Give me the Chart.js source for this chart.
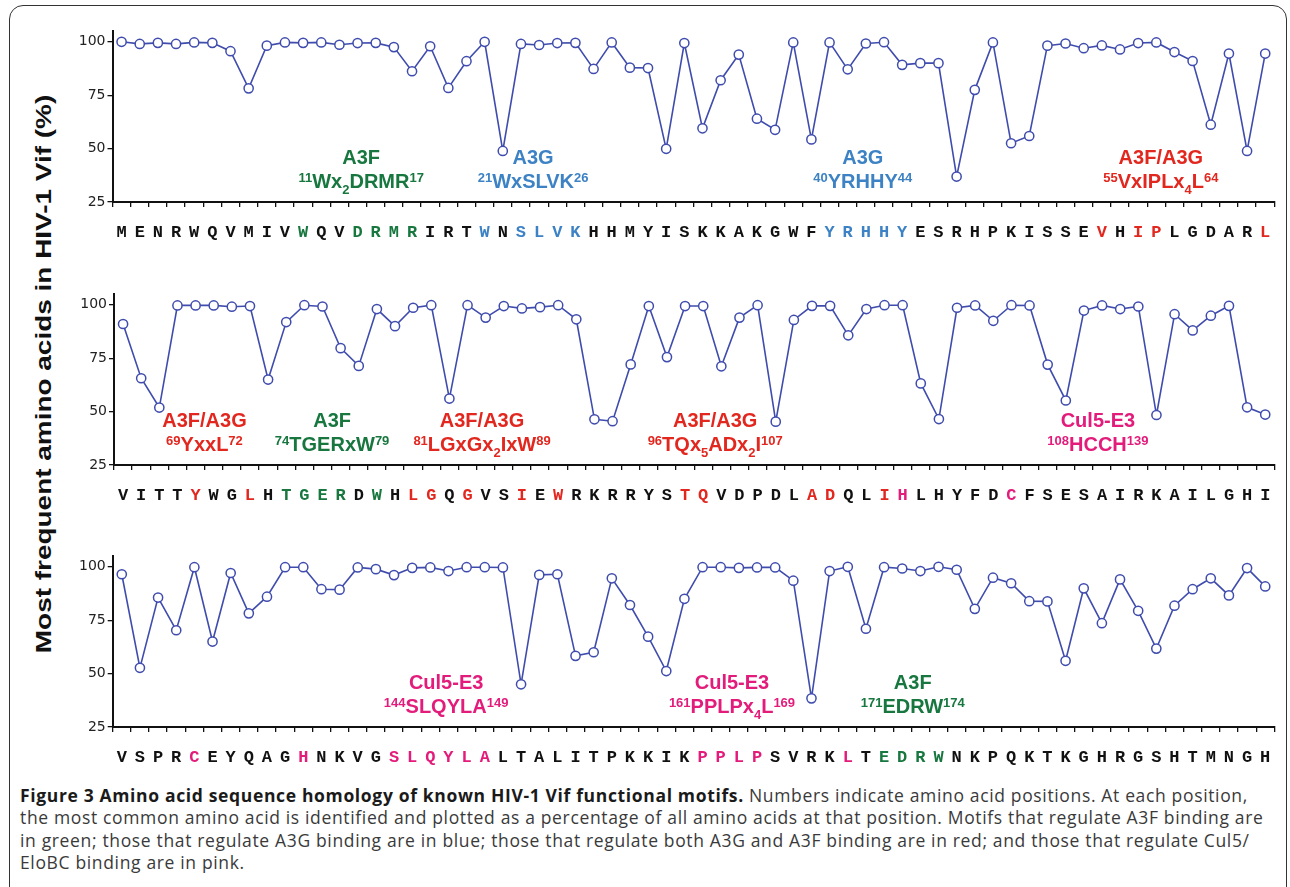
<!DOCTYPE html>
<html>
<head>
<meta charset="utf-8">
<script src="https://cdn.jsdelivr.net/npm/chart.js@4.4.1/dist/chart.umd.min.js"></script>
<style>
  body { margin: 0; background: #fff; width: 1290px; height: 887px; overflow: hidden; position: relative; }
  #frame { position: absolute; left: 9px; top: 5px; width: 1276px; height: 920px; border: 1.5px solid #333; border-radius: 14px; }
  canvas { position: absolute; left: 0; }
  #ytitle {
    position: absolute; left: 43.5px; top: 374px; transform: translate(-50%, -50%) rotate(-90deg) scaleX(1.27);
    white-space: nowrap; font: bold 22px "Liberation Sans", Arial, sans-serif; color: #111;
  }
  #caption {
    position: absolute; left: 20px; top: 784px; white-space: nowrap; letter-spacing: 0.65px;
    font: 17.5px/22.4px "Open Sans", sans-serif; color: #3a3a3a;
  }
  #caption b { color: #1a1a1a; }
</style>
</head>
<body>
<div id="frame"></div>
<div id="ytitle">Most frequent amino acids in HIV-1 Vif (%)</div>
<canvas id="panel1" width="1290" height="222"></canvas>
<canvas id="panel2" width="1290" height="222"></canvas>
<canvas id="panel3" width="1290" height="222"></canvas>
<div id="caption"><b>Figure 3 Amino acid sequence homology of known HIV-1 Vif functional motifs.</b> Numbers indicate amino acid positions. At each position,<br>the most common amino acid is identified and plotted as a percentage of all amino acids at that position. Motifs that regulate A3F binding are<br>in green; those that regulate A3G binding are in blue; those that regulate both A3G and A3F binding are in red; and those that regulate Cul5/<br>EloBC binding are in pink.</div>

<script>
// Vif sequence, 64 residues per row
const seq1 = "MENRWQVMIVWQVDRMRIRTWNSLVKHHMYISKKAKGWFYRHHYESRHPKISSEVHIPLGDARL";
const seq2 = "VITTYWGLHTGERDWHLGQGVSIEWRKRRYSTQVDPDLADQLIHLHYFDCFSESAIRKAILGHI";
const seq3 = "VSPRCEYQAGHNKVGSLQYLALTALITPKKIKPPLPSVRKLTEDRWNKPQKTKGHRGSHTMNGH";

// % of most frequent amino acid at each position
const pct1 = [100, 99, 99.5, 99, 99.7, 99.5, 95.6, 78.2, 98.2, 99.7,
  99.5, 99.7, 98.6, 99.4, 99.5, 97.5, 86.2, 97.9, 78.4, 90.9,
  100, 48.9, 99, 98.5, 99.4, 99.5, 87.3, 99.7, 87.9, 87.7,
  49.9, 99.4, 59.5, 82, 94, 64, 58.8, 99.7, 54.3, 99.7,
  87.1, 99.2, 99.8, 89.2, 90, 90, 36.9, 77.5, 99.7, 52.5,
  55.9, 98.2, 99.2, 97, 98.3, 96.4, 99.4, 99.7, 95.2, 91,
  61.2, 94.5, 48.9, 94.5];
const pct2 = [91, 65.6, 51.9, 99.7, 99.7, 99.7, 99.1, 99.4, 65, 91.9,
  99.8, 99.2, 79.7, 71.4, 98, 90, 98.6, 99.8, 56.1, 99.8,
  94, 99.4, 98.3, 98.9, 99.8, 93.2, 46.4, 45.5, 72.1, 99.4,
  75.5, 99.4, 99.4, 71.2, 94, 99.8, 45.3, 92.9, 99.5, 99.5,
  85.7, 98, 99.8, 99.8, 63.2, 46.5, 98.6, 99.7, 92.5, 99.8,
  99.7, 72, 55.2, 97.3, 99.7, 98, 99.2, 48.4, 95.6, 88,
  94.9, 99.5, 52, 48.6];
const pct3 = [96.5, 52.7, 85.6, 70.3, 99.8, 65, 97.1, 78.2, 86, 99.8,
  99.8, 89.5, 89.3, 99.7, 98.9, 96.1, 99.5, 99.7, 98, 99.8,
  99.8, 99.7, 45, 96.2, 96.5, 58.3, 60, 94.6, 82.1, 67.3,
  51.2, 85, 99.8, 99.8, 99.5, 99.7, 99.7, 93.5, 38.4, 98,
  100, 71, 99.8, 99.2, 98, 100, 98.6, 80.3, 94.9, 92.3,
  83.9, 83.8, 56, 89.9, 73.6, 94.1, 79.4, 61.7, 81.8, 89.5,
  94.6, 86.6, 99.4, 90.8];

const yTicks = [25, 50, 75, 100];

// residue numbers in each kind of motif
const a3fSites = [11, 14, 15, 16, 17, 74, 75, 76, 77, 79, 171, 172, 173, 174];
const a3gSites = [21, 23, 24, 25, 26, 40, 41, 42, 43, 44];
const bothSites = [55, 57, 58, 64, 69, 72, 81, 82, 84, 87, 89, 96, 97, 103, 104, 107];
const cul5Sites = [108, 114, 133, 139, 144, 145, 146, 147, 148, 149, 161, 162, 163, 164, 169];

// motif labels: "at" is the residue (row index) they are centred on
const motifs1 = [
  { at: 13.2, name: "A3F", motif: "^{11}Wx_{2}DRMR^{17}", group: "a3f" },
  { at: 22.67, name: "A3G", motif: "^{21}WxSLVK^{26}", group: "a3g" },
  { at: 40.83, name: "A3G", motif: "^{40}YRHHY^{44}", group: "a3g" },
  { at: 57.25, name: "A3F/A3G", motif: "^{55}VxIPLx_{4}L^{64}", group: "both" },
];
const motifs2 = [
  { at: 4.49, name: "A3F/A3G", motif: "^{69}YxxL^{72}", group: "both" },
  { at: 11.53, name: "A3F", motif: "^{74}TGERxW^{79}", group: "a3f" },
  { at: 19.8, name: "A3F/A3G", motif: "^{81}LGxGx_{2}IxW^{89}", group: "both" },
  { at: 32.66, name: "A3F/A3G", motif: "^{96}TQx_{5}ADx_{2}I^{107}", group: "both" },
  { at: 53.77, name: "Cul5-E3", motif: "^{108}HCCH^{139}", group: "cul5" },
];
const motifs3 = [
  { at: 17.87, name: "Cul5-E3", motif: "^{144}SLQYLA^{149}", group: "cul5" },
  { at: 33.62, name: "Cul5-E3", motif: "^{161}PPLPx_{4}L^{169}", group: "cul5" },
  { at: 43.58, name: "A3F", motif: "^{171}EDRW^{174}", group: "a3f" },
];

// colours
const groupColors = { a3f: "#17773f", a3g: "#3c82c4", both: "#e2271f", cul5: "#e31b7b", none: "#111111" };
const lineColor = "#3f4cad";
const NAME_Y = 42.8;   // baseline of motif names, in axis units
const MOTIF_Y = 31.6;  // baseline of motif sequence

function groupOf(resNo) {
  if (a3fSites.includes(resNo)) return "a3f";
  if (a3gSites.includes(resNo)) return "a3g";
  if (bothSites.includes(resNo)) return "both";
  if (cul5Sites.includes(resNo)) return "cul5";
  return "none";
}

// split "^{11}Wx_{2}DRMR^{17}" into normal / sup / sub pieces
function parseMotif(s) {
  const parts = [];
  const re = /([\^_])\{([^}]*)\}|([^\^_]+)/g;
  let m;
  while ((m = re.exec(s))) {
    if (m[3]) parts.push({ t: m[3], k: "n" });
    else parts.push({ t: m[2], k: m[1] === "^" ? "sup" : "sub" });
  }
  return parts;
}

const labelFont = '"Liberation Sans", Arial, sans-serif';
const pieceFont = { n: "bold 20px " + labelFont, sup: "bold 13px " + labelFont, sub: "bold 13px " + labelFont };
const pieceShift = { n: 0, sup: -6, sub: 6 };

function drawRich(ctx, text, cx, y) {
  const parts = parseMotif(text);
  let total = 0;
  parts.forEach(p => { ctx.font = pieceFont[p.k]; p.w = ctx.measureText(p.t).width; total += p.w; });
  let x = cx - total / 2;
  ctx.textAlign = "left";
  parts.forEach(p => {
    ctx.font = pieceFont[p.k];
    ctx.fillText(p.t, x, y + pieceShift[p.k]);
    x += p.w;
  });
}

const motifLabels = {
  id: "motifLabels",
  beforeDatasetsDraw(chart, args, opts) {
    const { ctx, scales: { x, y } } = chart;
    opts.items.forEach(item => {
      const cx = x.getPixelForValue(item.at);
      ctx.save();
      ctx.fillStyle = groupColors[item.group];
      ctx.textBaseline = "alphabetic";
      ctx.textAlign = "center";
      ctx.font = pieceFont.n;
      ctx.fillText(item.name, cx, y.getPixelForValue(NAME_Y));
      drawRich(ctx, item.motif, cx, y.getPixelForValue(MOTIF_Y));
      ctx.restore();
    });
  }
};

// one chart per row of the sequence
function makePanel(id, seq, values, firstRes, motifs, top, axisLeft) {
  const canvas = document.getElementById(id);
  canvas.style.top = top + "px";
  const letters = seq.split("");
  return new Chart(canvas, {
    type: "line",
    data: {
      labels: letters,
      datasets: [{
        data: values,
        borderColor: lineColor,
        borderWidth: 1.6,
        tension: 0,
        pointRadius: 4.6,
        pointBorderWidth: 1.5,
        pointBorderColor: lineColor,
        pointBackgroundColor: "#ffffff",
        clip: false,
      }],
    },
    options: {
      responsive: false,
      animation: false,
      layout: { padding: { left: 0, right: 15.7, top: 0, bottom: 0 } },
      plugins: {
        legend: { display: false },
        tooltip: { enabled: false },
        motifLabels: { items: motifs },
      },
      scales: {
        x: {
          type: "category",
          offset: true,
          grid: { offset: true, drawOnChartArea: false, drawTicks: true, tickLength: 5, color: "#111", lineWidth: 1.3 },
          border: { display: true, color: "#111", width: 2 },
          ticks: {
            autoSkip: false, maxRotation: 0, minRotation: 0, padding: 16,
            font: { family: '"Liberation Mono", "Courier New", monospace', size: 17, weight: "bold" },
            color: (c) => groupColors[groupOf(firstRes + c.index)],
          },
          afterFit: (s) => { s.height = 45; s.paddingLeft = 0; s.paddingRight = 0; },
        },
        y: {
          min: 25,
          max: 105,
          grid: { drawOnChartArea: false, drawTicks: true, tickLength: 5, color: "#111", lineWidth: 1.3 },
          border: { display: true, color: "#111", width: 2 },
          ticks: {
            padding: 2,
            font: { family: '"DejaVu Sans", sans-serif', size: 14 },
            color: "#222",
          },
          afterBuildTicks: (s) => { s.ticks = yTicks.map(v => ({ value: v })); },
          afterFit: (s) => { s.width = axisLeft; s.paddingTop = 0; s.paddingBottom = 0; },
        },
      },
    },
    plugins: [motifLabels],
  });
}

makePanel("panel1", seq1, pct1, 1, motifs1, 25, 112.5);
makePanel("panel2", seq2, pct2, 65, motifs2, 288.3, 114);
makePanel("panel3", seq3, pct3, 129, motifs3, 550, 112.7);
</script>
</body>
</html>
